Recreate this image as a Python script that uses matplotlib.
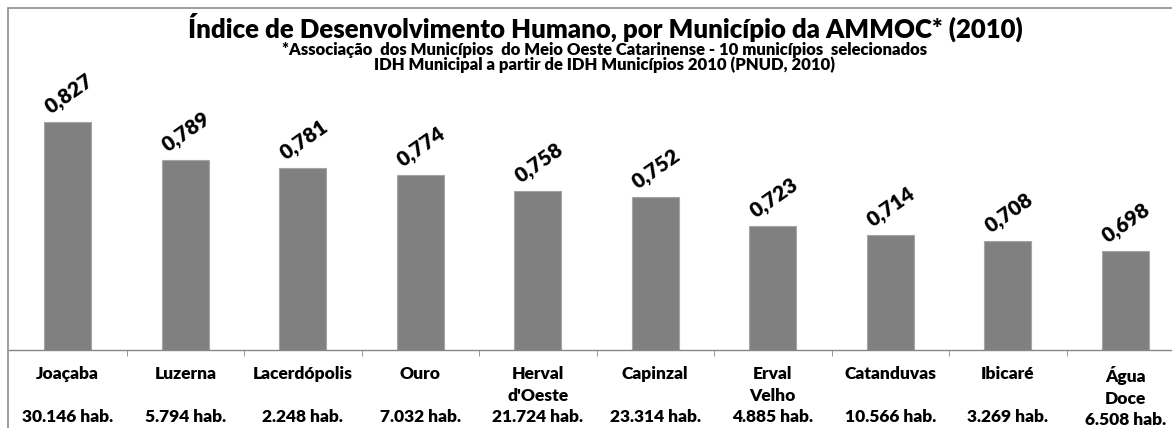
"""
IDH por município da AMMOC (2010) - gráfico de barras
"""

import matplotlib
matplotlib.use('Agg')
import matplotlib.pyplot as plt
from matplotlib.patches import Rectangle
from matplotlib.ticker import FixedLocator

# dados
municipios = ['Joaçaba', 'Luzerna', 'Lacerdópolis', 'Ouro', "Herval\nd'Oeste",
              'Capinzal', 'Erval\nVelho', 'Catanduvas', 'Ibicaré', 'Água\nDoce']
populacao = ['30.146', '5.794', '2.248', '7.032', '21.724',
             '23.314', '4.885', '10.566', '3.269', '6.508']
idh = [0.827, 0.789, 0.781, 0.774, 0.758, 0.752, 0.723, 0.714, 0.708, 0.698]

titulo = 'Índice de Desenvolvimento Humano, por Município da AMMOC* (2010)'
subtitulo = ['*Associação  dos Municípios  do Meio Oeste Catarinense - 10 municípios  selecionados',
             'IDH Municipal a partir de IDH Municípios 2010 (PNUD, 2010)']

plt.rcParams['font.family'] = ['Lato', 'DejaVu Sans']
PESO = 'heavy'

W, H = 1172, 428
fig = plt.figure(figsize=(W / 100, H / 100), dpi=100)

# posição do eixo em pixels (o gráfico original sai cortado à direita)
left_px, base_px, top_px = 9, 349.5, 80
step_px = 117.5
ax = fig.add_axes([left_px / W, (H - base_px) / H,
                   len(idh) * step_px / W, (base_px - top_px) / H])

x = range(len(idh))
ax.bar(x, idh, width=0.4, color='#808080', edgecolor='#a5a5a5', linewidth=0.8)
ax.set_xlim(-0.5, len(idh) - 0.5)
ax.set_ylim(0.6, 0.6 + (base_px - top_px) / 1000)

for xi, v in zip(x, idh):
    ax.annotate(f'{v:.3f}'.replace('.', ','), (xi, v), xytext=(1, 5),
                textcoords='offset pixels', ha='center', va='bottom',
                rotation=35, fontsize=15, fontweight=PESO, color='black')

labels = []
for nome, pop in zip(municipios, populacao):
    if '\n' not in nome:
        nome = nome + '\n'
    labels.append(f'{nome}\n{pop} hab.')
ax.set_xticks(list(x))
ax.set_xticklabels(labels, fontsize=12.5, fontweight=PESO, linespacing=1.42)
ax.xaxis.set_minor_locator(FixedLocator([i + 0.5 for i in range(len(idh))]))
ax.tick_params(axis='x', which='major', length=0, pad=12)
ax.tick_params(axis='x', which='minor', length=4, color='#868686', direction='out')
ax.set_yticks([])

for s in ['top', 'right', 'left']:
    ax.spines[s].set_visible(False)
ax.spines['bottom'].set_color('#868686')
ax.spines['bottom'].set_linewidth(1.0)

# títulos
fig.text(605 / W, 1 - 38 / H, titulo, ha='center', va='baseline',
         fontsize=18.5, fontweight=PESO)
fig.text(605 / W, 1 - 54.5 / H, subtitulo[0], ha='center', va='baseline',
         fontsize=12, fontweight=PESO)
fig.text(605 / W, 1 - 70 / H, subtitulo[1], ha='center', va='baseline',
         fontsize=12, fontweight=PESO)

# moldura do gráfico
fig.add_artist(Rectangle((7.5 / W, -0.1), 1.2, 1.1 - 8.5 / H,
                         transform=fig.transFigure, fill=False,
                         edgecolor='#8c8c8c', linewidth=1.2))

plt.savefig('out.png', dpi=100)
